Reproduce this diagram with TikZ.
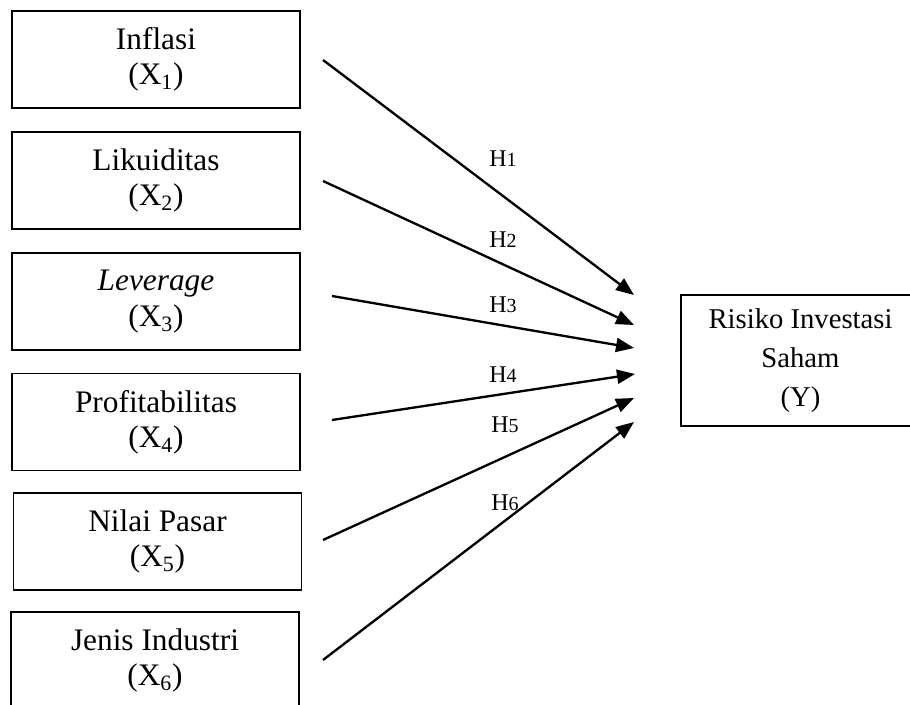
\documentclass[tikz,border=0pt]{standalone}
\usepackage{fontspec}
\setmainfont{Liberation Serif}
\usetikzlibrary{arrows.meta}
\begin{document}
\begin{tikzpicture}[x=0.75pt,y=-0.75pt,
  varbox/.style={draw, line width=1.1pt, minimum width=216pt, minimum height=72.75pt,
    align=center, inner sep=0pt, font=\fontsize{23.5}{26.5}\selectfont},
  ybox/.style={draw, line width=1.5pt, minimum width=179.25pt, minimum height=98.25pt,
    align=center, inner sep=0pt, font=\fontsize{21.5}{29}\selectfont},
  arr/.style={line width=1.75pt, -{Triangle[length=13.5pt,width=10.5pt]}},
  hlab/.style={inner sep=0pt, font=\fontsize{18}{18}\selectfont}]
\useasboundingbox (0,0) rectangle (910,705);
\clip (0,0) rectangle (910,705);
\fill[white] (0,0) rectangle (910,705);

\node[varbox] (x1) at (156,59.5) {Inflasi\\(X\textsubscript{1})};
\node[varbox] (x2) at (156,180.5) {Likuiditas\\(X\textsubscript{2})};
\node[varbox] (x3) at (156,301.5) {\textit{Leverage}\\(X\textsubscript{3})};
\node[varbox] (x4) at (156,422) {Profitabilitas\\(X\textsubscript{4})};
\node[varbox] (x5) at (157.5,541.5) {Nilai Pasar\\(X\textsubscript{5})};
\node[varbox] (x6) at (155,660.5) {Jenis Industri\\(X\textsubscript{6})};
\node[ybox] (y) at (800.5,360.5) {Risiko Investasi\\Saham\\(Y)};

\coordinate (s1) at (323,60);  \coordinate (e1) at (634,295);
\coordinate (s2) at (323,181); \coordinate (e2) at (634,325);
\coordinate (s3) at (332,296); \coordinate (e3) at (634,348);
\coordinate (s4) at (332,420); \coordinate (e4) at (635,374);
\coordinate (s5) at (323,540); \coordinate (e5) at (634,398);
\coordinate (s6) at (323,660); \coordinate (e6) at (634,422);

\draw[arr] (s1) -- (e1);
\draw[arr] (s2) -- (e2);
\draw[arr] (s3) -- (e3);
\draw[arr] (s4) -- (e4);
\draw[arr] (s5) -- (e5);
\draw[arr] (s6) -- (e6);

\node[hlab] (h1) at (503,159) {H{\fontsize{15}{15}\selectfont 1}};
\node[hlab] (h2) at (503,240) {H{\fontsize{15}{15}\selectfont 2}};
\node[hlab] (h3) at (503,305) {H{\fontsize{15}{15}\selectfont 3}};
\node[hlab] (h4) at (503,375) {H{\fontsize{15}{15}\selectfont 4}};
\node[hlab] (h5) at (505,425) {H{\fontsize{15}{15}\selectfont 5}};
\node[hlab] (h6) at (505,503) {H{\fontsize{15}{15}\selectfont 6}};
\end{tikzpicture}
\end{document}
